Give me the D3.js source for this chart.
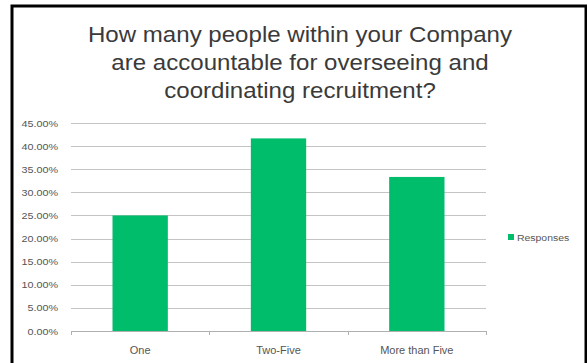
<!DOCTYPE html>
<html>
<head>
<meta charset="utf-8">
<script src="https://cdn.jsdelivr.net/npm/d3@7"></script>
<style>
  html, body { margin: 0; padding: 0; background: #fff; }
  svg { display: block; }
  text { font-family: "Liberation Sans", Arial, sans-serif; }
</style>
</head>
<body>
<svg id="chart" width="587" height="363"></svg>
<script>
// Survey results
const categories = ["One", "Two-Five", "More than Five"];
const responses = [25.00, 41.67, 33.33];
const yTicks = [0, 5, 10, 15, 20, 25, 30, 35, 40, 45];
const titleLines = [
  "How many people within your Company",
  "are accountable for overseeing and",
  "coordinating recruitment?"
];
const seriesName = "Responses";

const svg = d3.select("#chart");
const stretch = 1.1; // text is drawn slightly wide
const barColor = "#00bd6c";
const textColor = "#555555";

// frame
svg.append("rect")
  .attr("x", 12).attr("y", 6)
  .attr("width", 574).attr("height", 362)
  .attr("fill", "#fff")
  .attr("stroke", "#000").attr("stroke-width", 3);

function label(g, x, y, str, anchor, size, color, sx = stretch) {
  return g.append("text")
    .attr("transform", `translate(${x},${y}) scale(${sx},1)`)
    .attr("text-anchor", anchor)
    .attr("font-size", size)
    .attr("fill", color)
    .text(str);
}

// title
titleLines.forEach((t, i) => label(svg, 300, 42 + i * 28, t, "middle", 21.5, "#3a3a3a", 1.12));

const plot = { left: 71, right: 486, top: 123, bottom: 331 };

const x = d3.scaleBand().domain(categories).range([plot.left, plot.right]).padding(0);
const y = d3.scaleLinear().domain([0, 45]).range([plot.bottom, plot.top]);

// gridlines
svg.append("g").selectAll("line")
  .data(yTicks.filter(d => d > 0))
  .join("line")
  .attr("x1", plot.left).attr("x2", plot.right)
  .attr("y1", d => Math.round(y(d)) + 0.5).attr("y2", d => Math.round(y(d)) + 0.5)
  .attr("stroke", "#c4c4c4").attr("stroke-width", 1);

// y tick labels
const yl = svg.append("g");
yTicks.forEach(d => label(yl, 58, y(d) + 3.5, d.toFixed(2) + "%", "end", 9.8, textColor));

// bars
const barW = x.bandwidth() * 0.4;
svg.append("g").selectAll("rect")
  .data(categories.map((c, i) => ({ c, v: responses[i] })))
  .join("rect")
  .attr("x", d => x(d.c) + (x.bandwidth() - barW) / 2)
  .attr("width", barW)
  .attr("y", d => y(d.v))
  .attr("height", d => y(0) - y(d.v))
  .attr("fill", barColor);

// category axis
const ax = svg.append("g");
ax.append("line")
  .attr("x1", plot.left).attr("x2", plot.right)
  .attr("y1", Math.round(y(0)) + 0.5).attr("y2", Math.round(y(0)) + 0.5)
  .attr("stroke", "#b0b0b0");
const bounds = categories.map(c => x(c)).concat([plot.right]);
ax.selectAll("line.tick")
  .data(bounds)
  .join("line")
  .attr("class", "tick")
  .attr("x1", d => Math.round(d) + 0.5).attr("x2", d => Math.round(d) + 0.5)
  .attr("y1", y(0)).attr("y2", y(0) + 4)
  .attr("stroke", "#b0b0b0");
categories.forEach(c => label(ax, x(c) + x.bandwidth() / 2, 354, c, "middle", 10, textColor));

// legend
const lg = svg.append("g");
lg.append("rect").attr("x", 508).attr("y", 234).attr("width", 6).attr("height", 6).attr("fill", barColor);
label(lg, 517, 241, seriesName, "start", 9.5, textColor);
</script>
</body>
</html>
